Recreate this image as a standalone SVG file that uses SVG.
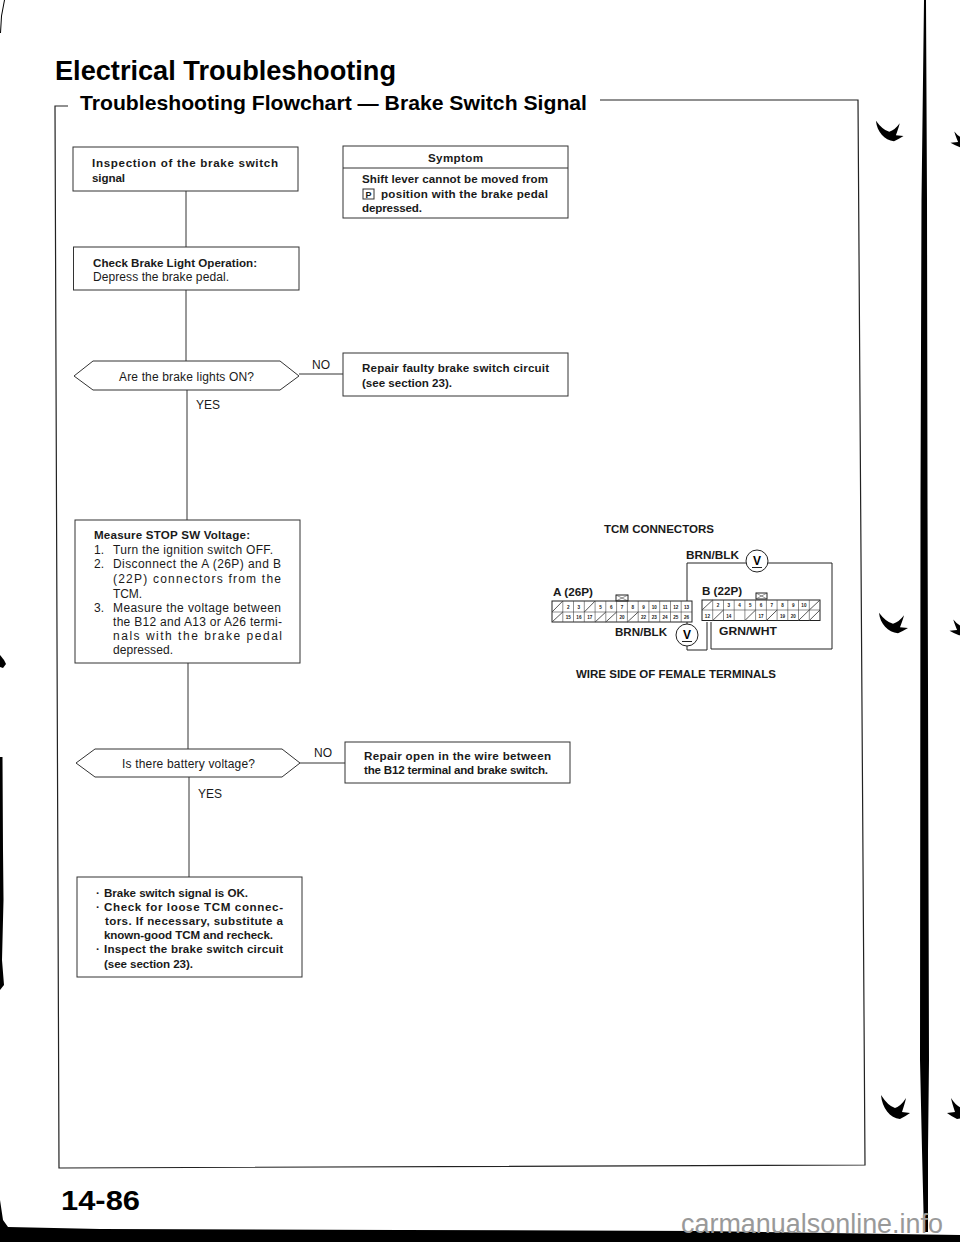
<svg xmlns="http://www.w3.org/2000/svg" width="960" height="1242" viewBox="0 0 960 1242">
<style>
text{font-family:"Liberation Sans",Arial,sans-serif;fill:#1a1a1a;font-size:12px}
.b{font-weight:bold;font-size:11.6px}
.t{font-weight:bold;fill:#000}
.box{fill:#fff;stroke:#333;stroke-width:1}
.ln{fill:none;stroke:#333;stroke-width:1}
.w{fill:none;stroke:#222;stroke-width:1}
.g{fill:none;stroke:#444;stroke-width:.6}
.n{font-size:4.6px;font-weight:bold;text-anchor:middle}
.c{font-weight:bold;font-size:11px}
.ink{fill:#000;stroke:none}
</style>
<defs>
<path id="sw" d="M1,15 C2,28 10,38 20,39 Q26,36 30,33 L22,32 Q25,23 26,18 Q21,26 15,28 Q8,26 1,15 Z"/>
</defs>
<rect width="960" height="1242" fill="#fff"/>

<g id="page-edges">
<path class="ink" d="M924,0 L926,0 L927,200 L927.5,500 L929,1060 L928,1150 L928,1232 L924,1232 L922,1150 L920,1060 L920.5,500 L921.5,200 Z"/>
<path class="ink" d="M0,1200 L3,1220 L8,1227 L100,1229 L400,1230 L700,1231 L960,1235 L960,1242 L0,1242 Z"/>
<path class="ink" d="M0,33 L1,16 L4,0 L5,0 L2,16 L1,33 Z"/>
<path class="ink" d="M0,757 L2.5,757 L3,850 L3.5,900 L2,960 L4,985 L0,990 Z"/>
<path class="ink" d="M0,655 L4,660 L6,664 L3,668 L0,667 Z"/>
<use href="#sw" class="ink" transform="translate(875,108) scale(.95,.85)"/>
<use href="#sw" class="ink" transform="translate(878,600) scale(1,.85)"/>
<use href="#sw" class="ink" transform="translate(880,1080)"/>
<use href="#sw" class="ink" transform="translate(979,118) scale(-.95,.75)"/>
<use href="#sw" class="ink" transform="translate(978,606) scale(-.95,.75)"/>
<use href="#sw" class="ink" transform="translate(977,1080) scale(-1,1)"/>
</g>

<g id="heading">
<text class="t" x="55" y="80" style="font-size:27px" textLength="341" lengthAdjust="spacingAndGlyphs">Electrical Troubleshooting</text>
<text class="t" x="80" y="110" style="font-size:21px" textLength="507" lengthAdjust="spacingAndGlyphs">Troubleshooting Flowchart — Brake Switch Signal</text>
<path class="w" d="M68,106 L55,106 L59,1168 L865,1165 L858,100 L600,100" style="stroke-width:1.2"/>
</g>

<g id="connectors">
<path class="ln" d="M186,191 V247"/>
<path class="ln" d="M186,290 V361"/>
<path class="ln" d="M187,390 V520"/>
<path class="ln" d="M188,663 V749"/>
<path class="ln" d="M189,777 V877"/>
<path class="ln" d="M299,374 H343"/>
<path class="ln" d="M300,763 H345"/>
<text x="312" y="369">NO</text>
<text x="196" y="409">YES</text>
<text x="314" y="757">NO</text>
<text x="198" y="798">YES</text>
</g>

<g id="n-inspection">
<rect class="box" x="73" y="147" width="225" height="44"/>
<text class="b" x="92" y="167" textLength="186">Inspection of the brake switch</text>
<text class="b" x="92" y="182" textLength="33">signal</text>
</g>

<g id="n-symptom">
<rect class="box" x="343" y="146" width="225" height="72"/>
<path class="ln" d="M343,168 H568"/>
<text class="b" x="428" y="162" textLength="55">Symptom</text>
<text class="b" x="362" y="183" textLength="186">Shift lever cannot be moved from</text>
<rect class="ln" x="363" y="189" width="11" height="10"/>
<text class="b" x="365.5" y="197.5" style="font-size:9px">P</text>
<text class="b" x="381" y="198" textLength="167">position with the brake pedal</text>
<text class="b" x="362" y="212" textLength="60">depressed.</text>
</g>

<g id="n-check">
<rect class="box" x="73.5" y="247" width="225.5" height="43"/>
<text class="b" x="93" y="267" textLength="164">Check Brake Light Operation:</text>
<text x="93" y="281" textLength="136">Depress the brake pedal.</text>
</g>

<g id="n-lights">
<path class="box" d="M74,376 L93,361 H280 L299,376 L280,390 H93 Z"/>
<text x="119" y="381" textLength="135">Are the brake lights ON?</text>
</g>

<g id="n-repair1">
<rect class="box" x="343" y="353" width="225" height="43"/>
<text class="b" x="362" y="372" textLength="187">Repair faulty brake switch circuit</text>
<text class="b" x="362" y="387" textLength="90">(see section 23).</text>
</g>

<g id="n-measure">
<rect class="box" x="75" y="520" width="225" height="143"/>
<text class="b" x="94" y="539" textLength="156">Measure STOP SW Voltage:</text>
<text x="94" y="554">1.</text>
<text x="113" y="554" textLength="160">Turn the ignition switch OFF.</text>
<text x="94" y="568">2.</text>
<text x="113" y="568" textLength="168">Disconnect the A (26P) and B</text>
<text x="113" y="583" textLength="168">(22P) connectors from the</text>
<text x="113" y="598" textLength="29">TCM.</text>
<text x="94" y="612">3.</text>
<text x="113" y="612" textLength="168">Measure the voltage between</text>
<text x="113" y="626" textLength="169">the B12 and A13 or A26 termi-</text>
<text x="113" y="640" textLength="169">nals with the brake pedal</text>
<text x="113" y="654" textLength="60">depressed.</text>
</g>

<g id="n-battery">
<path class="box" d="M76,763 L95,749 H282 L300,763 L282,777 H95 Z"/>
<text x="122" y="768" textLength="133">Is there battery voltage?</text>
</g>

<g id="n-repair2">
<rect class="box" x="345" y="742" width="225" height="41"/>
<text class="b" x="364" y="760" textLength="187">Repair open in the wire between</text>
<text class="b" x="364" y="774" textLength="184">the B12 terminal and brake switch.</text>
</g>

<g id="n-result">
<rect class="box" x="77" y="877" width="225" height="100"/>
<text class="b" x="96" y="897">·</text>
<text class="b" x="104" y="897" textLength="144">Brake switch signal is OK.</text>
<text class="b" x="96" y="911">·</text>
<text class="b" x="104" y="911" textLength="179">Check for loose TCM connec-</text>
<text class="b" x="105" y="925" textLength="178">tors. If necessary, substitute a</text>
<text class="b" x="104" y="939" textLength="169">known-good TCM and recheck.</text>
<text class="b" x="96" y="953">·</text>
<text class="b" x="104" y="953" textLength="179">Inspect the brake switch circuit</text>
<text class="b" x="104" y="968" textLength="89">(see section 23).</text>
</g>

<g id="tcm-diagram">
<text class="c" x="604" y="533" textLength="110" lengthAdjust="spacingAndGlyphs">TCM CONNECTORS</text>
<text class="c" x="576" y="678" textLength="200" lengthAdjust="spacingAndGlyphs">WIRE SIDE OF FEMALE TERMINALS</text>
<text class="c" x="686" y="559" textLength="53" lengthAdjust="spacingAndGlyphs">BRN/BLK</text>
<text class="c" x="615" y="636" textLength="52" lengthAdjust="spacingAndGlyphs">BRN/BLK</text>
<text class="c" x="719" y="635" textLength="58" lengthAdjust="spacingAndGlyphs">GRN/WHT</text>
<text class="c" x="553" y="596" textLength="40" lengthAdjust="spacingAndGlyphs">A (26P)</text>
<text class="c" x="702" y="595" textLength="40" lengthAdjust="spacingAndGlyphs">B (22P)</text>

<path class="w" d="M746,563 H687 V601 M768,563 H832 V649 H711 V622"/>
<path class="w" d="M687,622 V624 M687,646 V650 H707 V622"/>
<circle class="w" cx="757" cy="561" r="11"/>
<circle class="w" cx="687" cy="635" r="11"/>
<text class="t" x="757" y="565" text-anchor="middle" style="font-size:12px">V</text>
<text class="t" x="687" y="639" text-anchor="middle" style="font-size:12px">V</text>
<path class="w" d="M752,567.5 H762 M682,641.5 H692"/>

<g id="connector-a">
<rect class="w" x="616" y="595" width="12" height="6"/>
<path class="g" d="M616,595 L628,601 M616,601 L628,595"/>
<rect class="w" x="552" y="601" width="140" height="21"/>
<path class="g" d="M552,612 H692 M562.8,601 V622 M573.5,601 V622 M584.3,601 V622 M595.1,601 V622 M605.8,601 V622 M616.6,601 V622 M627.4,601 V622 M638.2,601 V622 M648.9,601 V622 M659.7,601 V622 M670.5,601 V622 M681.2,601 V622"/>
<path class="g" style="stroke-width:.9" d="M552,612 L562.8,601 M584.3,612 L595.1,601 M552,622 L562.8,612 M595.1,622 L605.8,612 M605.8,622 L616.6,612 M627.4,622 L638.2,612"/>
<text class="n" x="568.2" y="608.5">2</text><text class="n" x="578.9" y="608.5">3</text><text class="n" x="600.5" y="608.5">5</text><text class="n" x="611.2" y="608.5">6</text><text class="n" x="622" y="608.5">7</text><text class="n" x="632.8" y="608.5">8</text><text class="n" x="643.5" y="608.5">9</text><text class="n" x="654.3" y="608.5">10</text><text class="n" x="665.1" y="608.5">11</text><text class="n" x="675.8" y="608.5">12</text><text class="n" x="686.6" y="608.5">13</text>
<text class="n" x="568.2" y="619">15</text><text class="n" x="578.9" y="619">16</text><text class="n" x="589.7" y="619">17</text><text class="n" x="622" y="619">20</text><text class="n" x="643.5" y="619">22</text><text class="n" x="654.3" y="619">23</text><text class="n" x="665.1" y="619">24</text><text class="n" x="675.8" y="619">25</text><text class="n" x="686.6" y="619">26</text>
</g>

<g id="connector-b">
<rect class="w" x="756" y="593" width="11" height="6"/>
<path class="g" d="M756,593 L767,599 M756,599 L767,593"/>
<rect class="w" x="702" y="600" width="118" height="20.5"/>
<path class="g" d="M702,610 H820 M712.7,600 V620.5 M723.5,600 V620.5 M734.2,600 V620.5 M744.9,600 V620.5 M755.6,600 V620.5 M766.4,600 V620.5 M777.1,600 V620.5 M787.8,600 V620.5 M798.5,600 V620.5 M809.3,600 V620.5"/>
<path class="g" style="stroke-width:.9" d="M702,610 L712.7,600 M809.3,610 L820,600 M712.7,620.5 L723.5,610 M744.9,620.5 L755.6,610 M766.4,620.5 L777.1,610 M798.5,620.5 L809.3,610 M809.3,620.5 L820,610"/>
<text class="n" x="718.1" y="607">2</text><text class="n" x="728.8" y="607">3</text><text class="n" x="739.5" y="607">4</text><text class="n" x="750.3" y="607">5</text><text class="n" x="761" y="607">6</text><text class="n" x="771.7" y="607">7</text><text class="n" x="782.5" y="607">8</text><text class="n" x="793.2" y="607">9</text><text class="n" x="803.9" y="607">10</text>
<text class="n" x="707.4" y="617.5">12</text><text class="n" x="728.8" y="617.5">14</text><text class="n" x="761" y="617.5">17</text><text class="n" x="782.5" y="617.5">19</text><text class="n" x="793.2" y="617.5">20</text>
</g>
</g>

<g id="page-number">
<text class="t" x="61" y="1210" style="font-size:28px" textLength="79" lengthAdjust="spacingAndGlyphs">14-86</text>
</g>

<g id="watermark">
<text x="681" y="1233" style="font-size:27px;fill:#999" textLength="262" lengthAdjust="spacingAndGlyphs">carmanualsonline.info</text>
</g>
</svg>
